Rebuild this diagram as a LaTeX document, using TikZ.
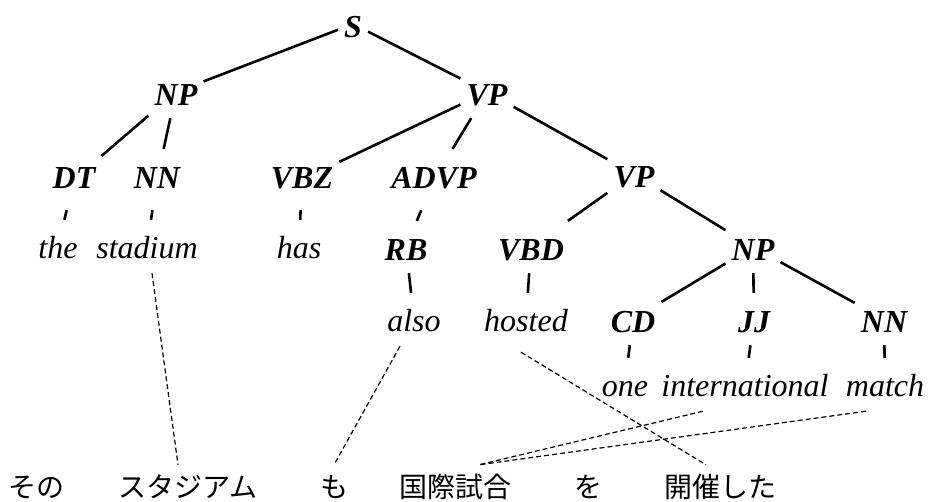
\documentclass[tikz,border=0pt]{standalone}
\usepackage{fontspec}
\setmainfont{Liberation Serif}
\newfontfamily\jpfont{Noto Sans CJK JP}
\begin{document}
\begin{tikzpicture}[x=1pt,y=-1pt,
  lab/.style={anchor=base,inner xsep=6pt,inner ysep=0pt,text height=39pt,text depth=13pt,
    font=\fontsize{32}{38}\selectfont\bfseries\itshape},
  labdeep/.style={lab,text depth=22pt},
  leaf/.style={anchor=base,inner xsep=6pt,inner ysep=0pt,text height=38pt,text depth=15pt,
    font=\fontsize{32}{38}\selectfont\itshape},
  jp/.style={anchor=base,inner sep=0pt,text height=32pt,text depth=4pt,
    font=\fontsize{28}{32}\selectfont\jpfont},
  edge/.style={line width=2.6pt},
  align/.style={line width=1.2pt,dash pattern=on 5pt off 3pt}]
\useasboundingbox (0,0) rectangle (932,501);
% labels
\node[lab] (S) at (353,37) {S};
\node[lab] (NPa) at (176,105) {NP};
\node[lab] (VPa) at (487,105) {VP};
\node[labdeep] (DT) at (74,188) {DT};
\node[labdeep] (NNa) at (157,188) {NN};
\node[labdeep] (VBZ) at (302,188) {VBZ};
\node[labdeep] (ADVP) at (434,188) {ADVP};
\node[lab] (VPb) at (634,187) {VP};
\node[lab] (RB) at (406,260) {RB};
\node[lab] (VBD) at (531,260) {VBD};
\node[lab] (NPb) at (753,260) {NP};
\node[lab] (CD) at (633,332) {CD};
\node[lab] (JJ) at (754,332) {JJ};
\node[lab] (NNb) at (884,332) {NN};
% leaves
\node[leaf] (the) at (58,258) {the};
\node[leaf] (stadium) at (147,258) {stadium};
\node[leaf] (has) at (299,258) {has};
\node[leaf] (also) at (414,331) {also};
\node[leaf] (hosted) at (526,331) {hosted};
\node[leaf] (one) at (625,396) {one};
\node[leaf] (intl) at (745,396) {international};
\node[leaf] (match) at (885,396) {match};
% japanese
\node[jp] (j1) at (37,497) {その};
\node[jp] (j2) at (188,497) {スタジアム};
\node[jp] (j3) at (334,497) {も};
\node[jp] (j4) at (455,497) {国際試合};
\node[jp] (j5) at (588,497) {を};
\node[jp] (j6) at (720,497) {開催した};
% tree edges
\draw[edge] (S) -- (NPa);
\draw[edge] (S) -- (VPa);
\draw[edge] (NPa) -- (DT);
\draw[edge] (NPa) -- (NNa);
\draw[edge] (VPa) -- (VBZ);
\draw[edge] (VPa) -- (ADVP);
\draw[edge] (VPa) -- (VPb);
\draw[edge] (DT) -- (the);
\draw[edge] (NNa) -- (stadium);
\draw[edge] (VBZ) -- (has);
\draw[edge] (ADVP) -- (RB);
\draw[edge] (RB) -- (also);
\draw[edge] (VPb) -- (VBD);
\draw[edge] (VPb) -- (NPb);
\draw[edge] (VBD) -- (hosted);
\draw[edge] (NPb) -- (CD);
\draw[edge] (NPb) -- (JJ);
\draw[edge] (NPb) -- (NNb);
\draw[edge] (CD) -- (one);
\draw[edge] (JJ) -- (intl);
\draw[edge] (NNb) -- (match);
% alignment lines
\coordinate (join) at ([xshift=24pt]j4.north);
\draw[align] ([xshift=5pt]stadium.south) -- ([xshift=-10pt]j2.north);
\draw[align] ([xshift=-14pt]also.south) -- (j3.north);
\draw[align] ([shift={(-5,6)}]hosted.south) -- ([xshift=-14pt]j6.north);
\draw[align] ([xshift=-42pt]intl.south) -- (join);
\draw[align] ([xshift=-19pt]match.south) -- (join);
\end{tikzpicture}
\end{document}
